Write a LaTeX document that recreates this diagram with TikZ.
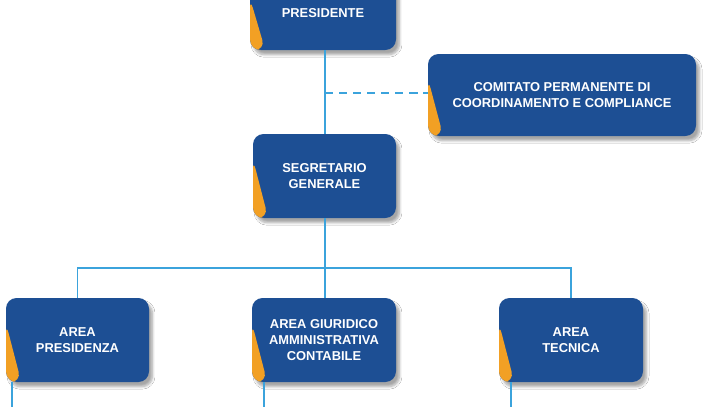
\documentclass[tikz,border=0pt]{standalone}
\usepackage{fontspec}
\setmainfont{Liberation Sans}
\usetikzlibrary{calc, shadows.blur}
\definecolor{boxblue}{HTML}{1D4F94}
\definecolor{wedge}{HTML}{F2A024}
\definecolor{wire}{HTML}{3BA3DC}

\tikzset{
    unit/.style={rounded corners=9pt, fill=boxblue, text=white, font=\bfseries\fontsize{11}{13.5}\selectfont,
        align=center, inner sep=0pt,
        blur shadow={shadow xshift=3pt, shadow yshift=-4pt, shadow blur steps=6, shadow opacity=35},
        path picture={
            \fill [wedge] ($ (path picture bounding box.south west)!0.7!(path picture bounding box.north west) $)
            -- (path picture bounding box.south west) -- ++(13pt, 0) -- cycle;
        }},
    link/.style={wire, line width=1.4pt}
}

\begin{document}
\begin{tikzpicture}[x=0.03cm, y=-0.03cm]
    \useasboundingbox [fill=white] (0, 0) rectangle (721, 407);

    % top
    \node [unit, minimum width=146*0.03cm, minimum height=74*0.03cm] (pres) at (323, 13) {PRESIDENTE};
    \node [unit, minimum width=268*0.03cm, minimum height=82*0.03cm] (comit) at (562, 95)
    {COMITATO PERMANENTE DI\\COORDINAMENTO E COMPLIANCE};
    \node [unit, minimum width=143*0.03cm, minimum height=84*0.03cm] (segr) at (324.5, 176) {SEGRETARIO\\GENERALE};

    % areas
    \node [unit, minimum width=143*0.03cm, minimum height=84*0.03cm] (apres) at (77.5, 340) {AREA\\PRESIDENZA};
    \node [unit, minimum width=144*0.03cm, minimum height=84*0.03cm] (agiur) at (324, 340)
    {AREA GIURIDICO\\AMMINISTRATIVA\\CONTABILE};
    \node [unit, minimum width=144*0.03cm, minimum height=84*0.03cm] (atec) at (571, 340) {AREA\\TECNICA};

    \coordinate (split) at (325, 268);
    \coordinate (dash) at (325, 93);

    % links
    \draw [link] (pres.south -| split) -- (segr.north -| split);
    \draw [link, dash pattern=on 7pt off 5pt] (dash) -- (comit.west |- dash);
    \draw [link] (segr.south -| split) -- (split);
    \draw [link] (apres.north) |- (split) -| (atec.north);
    \draw [link] (split) -- (agiur.north -| split);
    \draw [link] (12, 382) -- (12, 407);
    \draw [link] (264, 382) -- (264, 407);
    \draw [link] (511, 382) -- (511, 407);
\end{tikzpicture}
\end{document}
